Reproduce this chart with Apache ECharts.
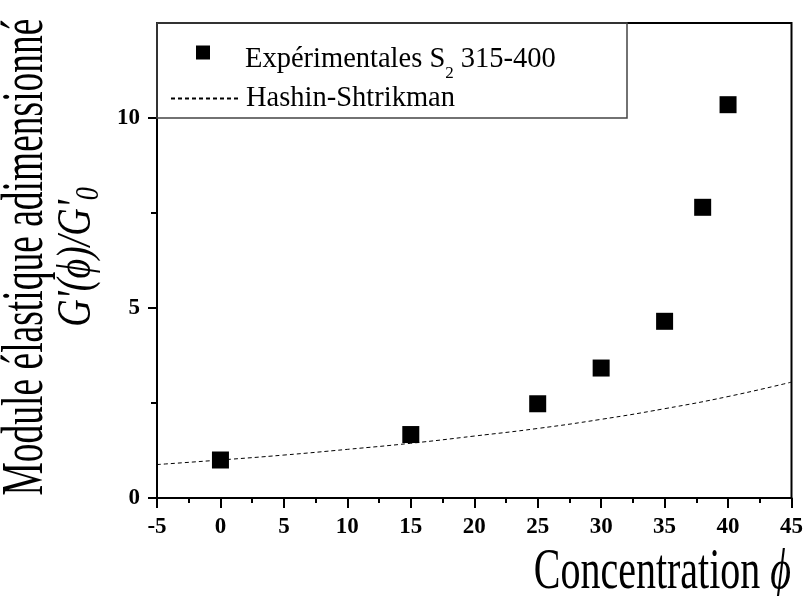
<!DOCTYPE html>
<html>
<head>
<meta charset="utf-8">
<script src="https://cdn.jsdelivr.net/npm/echarts@6/dist/echarts.min.js"></script>
<style>html,body{margin:0;padding:0;background:#fff}#c{width:806px;height:596px}</style>
</head>
<body>
<div id="c"></div>
<script>
// ---- data ----
const expName = 'Expérimentales S2 315-400';
const hsName = 'Hashin-Shtrikman';
const expX = [0, 15, 25, 30, 35, 38, 40];
const expY = [1.0, 1.67, 2.48, 3.42, 4.65, 7.65, 10.35];
const hsX = [-5, 0, 5, 10, 15, 20, 25, 30, 35, 40, 45];
const hsY = [0.88, 1.00, 1.13, 1.28, 1.44, 1.63, 1.83, 2.07, 2.35, 2.67, 3.05];
const xTicks = [-5, 0, 5, 10, 15, 20, 25, 30, 35, 40, 45];
const yTicks = [0, 5, 10];
const yMinorTicks = [2.5, 7.5];

const FONT = 'Liberation Serif';
const chart = echarts.init(document.getElementById('c'), null, {renderer: 'canvas'});

const tickLabelStyle = {fontFamily: FONT, fontWeight: 'bold', fontSize: 23, color: '#000'};

chart.setOption({
  animation: false,
  backgroundColor: '#fff',
  grid: {left: 157, right: 13, top: 23, bottom: 98, show: true, borderColor: '#000', borderWidth: 2},
  xAxis: {
    type: 'value', min: -5, max: 45, interval: 5,
    axisLine: {show: true, onZero: false, lineStyle: {color: '#000', width: 2}},
    axisTick: {show: true, length: 10, lineStyle: {color: '#000', width: 2}},
    minorTick: {show: true, splitNumber: 2, length: 5, lineStyle: {color: '#000', width: 2}},
    splitLine: {show: false},
    axisLabel: Object.assign({margin: 18, customValues: xTicks}, tickLabelStyle)
  },
  yAxis: [{
    type: 'value', min: 0, max: 12.5, interval: 5, position: 'left',
    axisLine: {show: true, onZero: false, lineStyle: {color: '#000', width: 2}},
    axisTick: {show: true, length: 9, customValues: yTicks, lineStyle: {color: '#000', width: 2}},
    splitLine: {show: false},
    axisLabel: Object.assign({margin: 17, customValues: yTicks}, tickLabelStyle)
  }, {
    type: 'value', min: 0, max: 12.5, position: 'left', offset: 0,
    axisLine: {show: false, onZero: false},
    axisTick: {show: true, length: 6, customValues: yMinorTicks, lineStyle: {color: '#000', width: 2}},
    splitLine: {show: false},
    axisLabel: {show: false}
  }],
  legend: [{
    data: [{name: expName, icon: 'path://M0,0L14,0L14,14L0,14Z M0,28'}],
    orient: 'vertical', left: 196, top: 45, padding: 0,
    itemWidth: 14, itemHeight: 28, selectedMode: false,
    itemStyle: {opacity: 1},
    formatter: () => '{sp|}{a|Expérimentales S}{s|2}{a| 315-400}',
    textStyle: {rich: {
      sp: {width: 30},
      a: {fontFamily: FONT, fontSize: 28.5, color: '#000', lineHeight: 46},
      s: {fontFamily: FONT, fontSize: 17, color: '#000', lineHeight: 17, verticalAlign: 'bottom'}
    }}
  }, {
    data: [hsName], orient: 'vertical', left: 170, top: 84, padding: 0,
    itemWidth: 67, itemHeight: 14, selectedMode: false,
    itemStyle: {opacity: 0, color: 'transparent', borderWidth: 0},
    formatter: () => '{sp|}{a|Hashin-Shtrikman}',
    textStyle: {rich: {sp: {width: 3}, a: {fontFamily: FONT, fontSize: 28.5, color: '#000', lineHeight: 30}}}
  }],
  series: [{
    name: hsName, type: 'line', smooth: true, symbol: 'none', z: 1,
    data: hsX.map((x, i) => [x, hsY[i]]),
    lineStyle: {color: '#000', width: 1, type: [4, 3]},
    itemStyle: {color: '#000'}
  }, {
    name: expName, type: 'scatter', symbol: 'rect', symbolSize: 17, z: 3,
    data: expX.map((x, i) => [x, expY[i]]),
    itemStyle: {color: '#000', opacity: 1}
  }],
  graphic: [{
    type: 'rect', z: 10, silent: true,
    shape: {x: 157, y: 23, width: 470, height: 95},
    style: {fill: 'none', stroke: '#444', lineWidth: 1.5}
  }, {
    type: 'text', z: 10, x: 791, y: 573, scaleY: 1.45,
    style: {
      text: '{r|Concentration }{i|ϕ}', textAlign: 'right', textVerticalAlign: 'middle',
      rich: {r: {fontFamily: FONT, fontSize: 40, fill: '#000'}, i: {fontFamily: FONT, fontStyle: 'italic', fontSize: 40, fill: '#000'}}
    }
  }, {
    type: 'text', z: 10, x: 27, y: 257, rotation: Math.PI / 2, scaleY: 1.57,
    style: {
      text: 'Module élastique adimensionné', textAlign: 'center', textVerticalAlign: 'middle',
      fontFamily: FONT, fontSize: 37.5, fill: '#000'
    }
  }, {
    type: 'text', z: 10, x: 81, y: 257, rotation: Math.PI / 2, scaleY: 1.3,
    style: {
      text: "{i|G'(ϕ)/G'}{s|0}", textAlign: 'center', textVerticalAlign: 'middle',
      rich: {
        i: {fontFamily: FONT, fontStyle: 'italic', fontSize: 38, fill: '#000', lineHeight: 38, verticalAlign: 'bottom', padding: [0, 0, 3, 0]},
        s: {fontFamily: FONT, fontStyle: 'italic', fontSize: 26, fill: '#000', lineHeight: 26, verticalAlign: 'bottom'}
      }
    }
  }]
});
</script>
</body>
</html>
